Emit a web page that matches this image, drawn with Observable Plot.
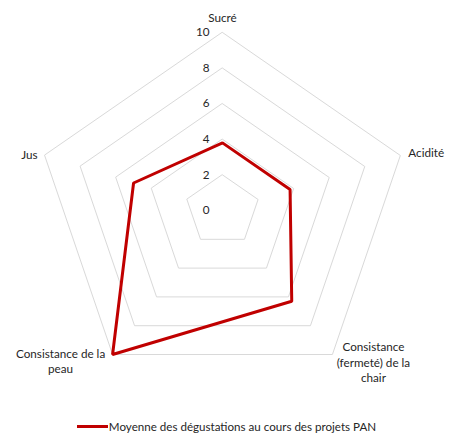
<!DOCTYPE html>
<html>
<head>
<meta charset="utf-8">
<script src="https://cdn.jsdelivr.net/npm/d3@7"></script>
<script src="https://cdn.jsdelivr.net/npm/@observablehq/plot@0.6"></script>
<style>
  html, body { margin: 0; padding: 0; background: #fff; }
  #chart { width: 449px; }
  .legend { display: flex; justify-content: center; align-items: center; height: 28px; padding-left: 4px; box-sizing: border-box; font-family: Lato, sans-serif; font-size: 11.6px; color: #262626; }
  .legend .sw { display: inline-block; width: 31px; height: 3px; background: #C00000; margin-right: 1px; }
</style>
</head>
<body>
<div id="chart"></div>
<script>
const categories = ["Sucré", "Acidité", "Consistance (fermeté) de la chair", "Consistance de la peau", "Jus"];
const values = [3.8, 3.8, 6.3, 10, 5.0];
const levels = [2, 4, 6, 8, 10];
const tickLabels = [0, 2, 4, 6, 8, 10];
const seriesName = "Moyenne des dégustations au cours des projets PAN";
const maxValue = 10;

const n = categories.length;
const ang = i => i * 2 * Math.PI / n;
const px = (v, i) => v * Math.sin(ang(i));
const py = (v, i) => v * Math.cos(ang(i));

const rings = levels.flatMap(l => categories.map((c, i) => ({level: l, x: px(l, i), y: py(l, i)})));
const series = categories.map((c, i) => ({cat: c, x: px(values[i], i), y: py(values[i], i)}));

const wrapped = {
  "Consistance (fermeté) de la chair": "Consistance\n(fermeté) de la\nchair",
  "Consistance de la peau": "Consistance de la\npeau"
};
const labelLayout = [
  {anchor: "middle", dx: 0, dy: -16},
  {anchor: "start", dx: 8, dy: -4},
  {anchor: "middle", dx: 41, dy: 7},
  {anchor: "middle", dx: -52, dy: 6},
  {anchor: "end", dx: -7, dy: -2}
];

const cx = 222, cy = 210, rx = 187, ry = 178;

const labelMarks = categories.map((c, i) => Plot.text([c], {
  x: () => px(maxValue, i),
  y: () => py(maxValue, i),
  text: d => wrapped[d] || d,
  textAnchor: labelLayout[i].anchor,
  dx: labelLayout[i].dx,
  dy: labelLayout[i].dy,
  lineHeight: 1.35
}));

const plot = Plot.plot({
  width: 449,
  height: 412,
  marginTop: 0, marginRight: 0, marginBottom: 0, marginLeft: 0,
  x: {type: "linear", domain: [-10, 10], range: [cx - rx, cx + rx], axis: null},
  y: {type: "linear", domain: [-10, 10], range: [cy + ry, cy - ry], axis: null},
  style: {fontFamily: "Lato, sans-serif", fontSize: "11.7px", color: "#262626", background: "white", overflow: "visible"},
  marks: [
    Plot.line(rings, {x: "x", y: "y", z: "level", curve: "linear-closed", stroke: "#d9d9d9", strokeWidth: 1}),
    Plot.line(series, {x: "x", y: "y", curve: "linear-closed", stroke: "#C00000", strokeWidth: 3, strokeLinejoin: "miter"}),
    Plot.text(tickLabels, {x: () => 0, y: d => d, text: d => String(d), textAnchor: "end", dx: -13}),
    ...labelMarks
  ]
});
document.getElementById("chart").appendChild(plot);

const legend = document.createElement("div");
legend.className = "legend";
legend.innerHTML = `<span class="sw"></span><span></span>`;
legend.lastChild.textContent = seriesName;
document.getElementById("chart").appendChild(legend);
</script>
</body>
</html>
